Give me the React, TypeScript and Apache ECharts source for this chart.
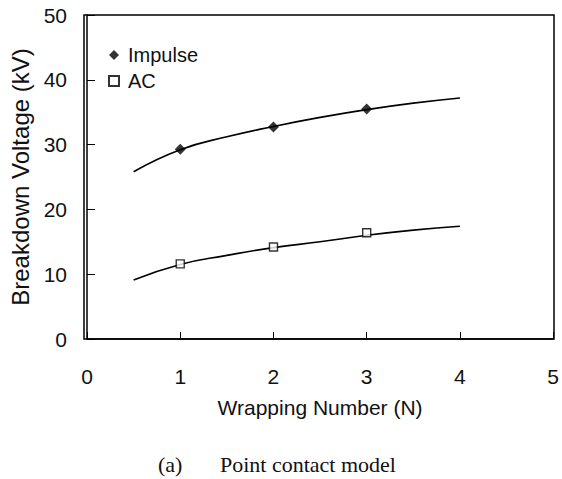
import React, { useEffect, useRef } from "react";
import * as echarts from "echarts";

const fitX = [0.5, 1, 1.5, 2, 2.5, 3, 3.5, 4];
const impulseFit = [25.8, 29.2, 31.2, 32.8, 34.2, 35.4, 36.4, 37.2];
const acFit = [9.1, 11.5, 12.9, 14.1, 15.0, 16.0, 16.8, 17.4];
const measuredX = [1, 2, 3];
const impulseData = [29.3, 32.7, 35.5];
const acData = [11.6, 14.2, 16.4];

const FONT = "'Liberation Sans', Arial, sans-serif";
const SERIF = "'Liberation Serif', 'Times New Roman', serif";

export default function App() {
  const ref = useRef<HTMLDivElement>(null);
  useEffect(() => {
    if (!ref.current) return;
    const chart = echarts.init(ref.current, null, { renderer: "svg" });
    const pair = (xs: number[], ys: number[]) => xs.map((x, i) => [x, ys[i]]);
    chart.setOption({
      animation: false,
      backgroundColor: "#ffffff",
      grid: { left: 84, top: 15, width: 470, height: 324, show: false },
      legend: {
        orient: "vertical",
        left: 103,
        top: 40,
        itemWidth: 10,
        itemHeight: 10,
        itemGap: 6,
        textStyle: { fontFamily: FONT, fontSize: 20, color: "#111", padding: [0, 0, 0, 4] },
        data: ["Impulse", "AC"],
      },
      xAxis: {
        type: "value",
        min: 0,
        max: 5,
        interval: 1,
        name: "Wrapping Number (N)",
        nameLocation: "middle",
        nameGap: 58,
        nameTextStyle: { fontFamily: FONT, fontSize: 21, color: "#111" },
        axisLine: { show: true, lineStyle: { color: "#000", width: 1.5 } },
        axisTick: { show: true, inside: true, length: 7, lineStyle: { color: "#000", width: 1 } },
        axisLabel: { margin: 27, fontFamily: FONT, fontSize: 21, color: "#111" },
        splitLine: { show: false },
      },
      yAxis: {
        type: "value",
        min: 0,
        max: 50,
        interval: 10,
        name: "Breakdown Voltage (kV)",
        nameLocation: "middle",
        nameGap: 55,
        nameTextStyle: { fontFamily: FONT, fontSize: 24, color: "#111" },
        axisLine: { show: true, lineStyle: { color: "#000", width: 1.5 } },
        axisTick: { show: true, inside: true, length: 8, lineStyle: { color: "#000", width: 1 } },
        axisLabel: { margin: 20, fontFamily: FONT, fontSize: 21, color: "#111" },
        splitLine: { show: false },
      },
      graphic: [
        {
          type: "rect",
          shape: { x: 84, y: 15, width: 470, height: 324 },
          style: { fill: "none", stroke: "#000", lineWidth: 1.5 },
          silent: true,
        },
        {
          type: "text",
          x: 158,
          y: 464,
          style: { text: "(a)", font: `22px ${SERIF}`, fill: "#111", verticalAlign: "middle" },
        },
        {
          type: "text",
          x: 220,
          y: 464,
          style: { text: "Point contact model", font: `22px ${SERIF}`, fill: "#111", verticalAlign: "middle" },
        },
      ],
      series: [
        {
          type: "line",
          smooth: true,
          showSymbol: false,
          data: pair(fitX, impulseFit),
          lineStyle: { color: "#000", width: 1.6 },
          silent: true,
        },
        {
          type: "line",
          smooth: true,
          showSymbol: false,
          data: pair(fitX, acFit),
          lineStyle: { color: "#000", width: 1.6 },
          silent: true,
        },
        {
          name: "Impulse",
          type: "scatter",
          symbol: "diamond",
          symbolSize: 11,
          itemStyle: { color: "#000" },
          data: pair(measuredX, impulseData),
          z: 5,
        },
        {
          name: "AC",
          type: "scatter",
          symbol: "rect",
          symbolSize: 8,
          itemStyle: { color: "#fff", borderColor: "#000", borderWidth: 1.4 },
          data: pair(measuredX, acData),
          z: 5,
        },
      ],
    });
    return () => chart.dispose();
  }, []);
  return (
    <div
      ref={ref}
      style={{ position: "fixed", left: 0, top: 0, width: 562, height: 479 }}
    />
  );
}
